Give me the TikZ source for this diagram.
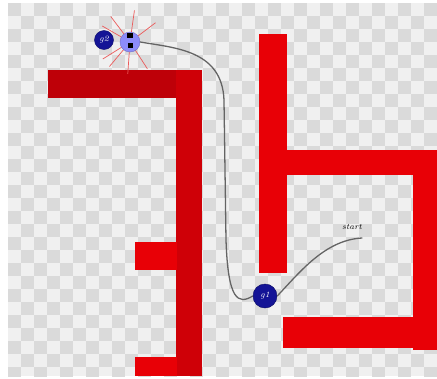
\documentclass[tikz,border=0pt]{standalone}
\usepackage{xcolor}
\usepackage{tikz}
\usetikzlibrary{positioning, calc}
\definecolor{wallred}{RGB}{232,0,6}
\definecolor{walldark}{RGB}{190,0,8}
\definecolor{goalblue}{RGB}{20,20,150}
\definecolor{botblue}{RGB}{140,140,250}
\definecolor{raypink}{RGB}{235,90,90}
\definecolor{chkgrey}{RGB}{218,218,218}
\definecolor{chkwhite}{RGB}{240,240,240}
\definecolor{trackgrey}{RGB}{100,100,100}
\tikzset{
  wall/.style={fill=wallred, draw=none},
  darkwall/.style={fill=walldark, draw=none},
  goal/.style={circle, fill=goalblue, draw=goalblue!70!black, inner sep=0pt,
    text=white, font=\scriptsize\itshape},
  robot/.style={circle, fill=botblue, draw=botblue!80!black, inner sep=0pt, minimum size=0.6cm},
  ray/.style={raypink, line width=0.6pt},
  track/.style={trackgrey, line width=1.1pt, line cap=round}
}

\begin{document}
\begin{tikzpicture}[x=0.03cm, y=-0.03cm]
  \useasboundingbox (0,0) rectangle (437,378);
  \fill[white] (0,0) rectangle (437,378);

  % checkered floor
  \fill[chkwhite] (8,3) rectangle (437,376);
  \begin{scope}
    \clip (8,3) rectangle (437,376);
    \foreach \i in {0,...,33}{
      \foreach \j in {0,...,28}{
        \pgfmathtruncatemacro\k{mod(\i+\j,2)}
        \ifnum\k=0
          \fill[chkgrey] (8+13*\i,3+13*\j) rectangle ++(13,13);
        \fi
      }
    }
  \end{scope}

  % left walls
  \fill[darkwall] (48,70) rectangle (200,98);
  \fill[walldark!60!wallred] (176,70) rectangle (202,376);
  \fill[wallred] (135,242) rectangle (177,270);
  \fill[wallred] (135,357) rectangle (177,376);

  % right walls
  \fill[wall] (259,34) rectangle (287,273);
  \fill[wall] (287,150) rectangle (437,175);
  \fill[wall] (413,150) rectangle (437,350);
  \fill[wall] (283,317) rectangle (428,348);

  % sensor rays of the robot
  \coordinate (botc) at (130,42);
  \foreach \a in {82,37,-57,-94,127,150,212,-130}
    \draw[ray] (botc) -- ++(-\a:32);

  % goals and robot
  \node[goal, minimum size=0.57cm] (g2) at (104,40) {g2};
  \node[robot] (bot) at (botc) {};
  \fill[black] (127,33) rectangle (133,38);
  \fill[black] (128,43) rectangle (133,48);
  \node[goal, minimum size=0.72cm] (g1) at (265,296) {g1};
  \node[font=\scriptsize\itshape, inner sep=1pt] (start) at (352,227) {start};
  \coordinate (trackend) at (362,238);

  % travelled track
  \draw[track] (bot.east) .. controls (175,48) and (222,50) .. (224,100)
    -- (226,240) .. controls (228,300) and (238,305) .. (g1.west);
  \draw[track] (g1.east) .. controls (300,272) and (325,240) .. (trackend);
\end{tikzpicture}
\end{document}
